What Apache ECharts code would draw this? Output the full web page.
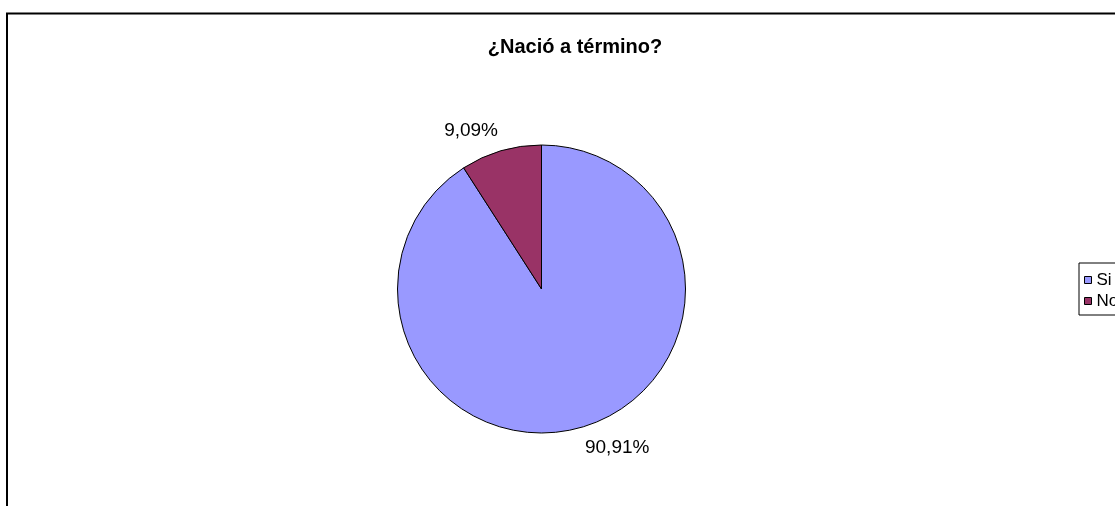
<!DOCTYPE html>
<html>
<head>
<meta charset="utf-8">
<script src="https://cdn.jsdelivr.net/npm/echarts@6/dist/echarts.min.js"></script>
<style>
html,body{margin:0;padding:0;background:#fff;}
#chart{width:1115px;height:506px;}
</style>
</head>
<body>
<div id="chart"></div>
<script>
var titleText = '¿Nació a término?';
var categories = ['Si', 'No'];
var values = [90.91, 9.09];
var colors = ['#9999FF', '#993366'];

var chart = echarts.init(document.getElementById('chart'), null, {renderer: 'canvas'});
var data = categories.map(function (c, i) {
  return {name: c, value: values[i], itemStyle: {color: colors[i]}};
});
chart.setOption({
  backgroundColor: '#ffffff',
  animation: false,
  title: {
    text: titleText,
    left: 570,
    textAlign: 'center',
    top: 32,
    textStyle: {fontFamily: 'Liberation Sans, Arial', fontWeight: 'bold', fontSize: 20, color: '#000'}
  },
  graphic: [{
    type: 'rect',
    shape: {x: 7, y: 13.5, width: 1200, height: 600},
    style: {fill: 'none', stroke: '#000', lineWidth: 2},
    z: 0, silent: true
  }],
  legend: {
    orient: 'vertical',
    left: 1079,
    top: 263,
    data: categories,
    icon: 'rect',
    itemWidth: 7,
    itemHeight: 7,
    itemGap: 1,
    padding: [7, 30, 4, 5],
    borderColor: '#000',
    borderWidth: 1,
    itemStyle: {borderColor: '#000', borderWidth: 1},
    textStyle: {fontFamily: 'Liberation Sans, Arial', fontSize: 17, lineHeight: 20, color: '#000'}
  },
  series: [{
    type: 'pie',
    center: [541.5, 289],
    radius: 144,
    startAngle: 90,
    clockwise: true,
    avoidLabelOverlap: false,
    data: data,
    itemStyle: {borderColor: '#000', borderWidth: 1},
    emphasis: {disabled: true},
    label: {
      show: true,
      position: 'outside',
      formatter: function (p) { return p.value.toFixed(2).replace('.', ',') + '%'; },
      fontFamily: 'Liberation Sans, Arial',
      fontSize: 19,
      color: '#000',
      distanceToLabelLine: -3
    },
    labelLine: {show: false, length: 21, length2: 0}
  }]
});
</script>
</body>
</html>
